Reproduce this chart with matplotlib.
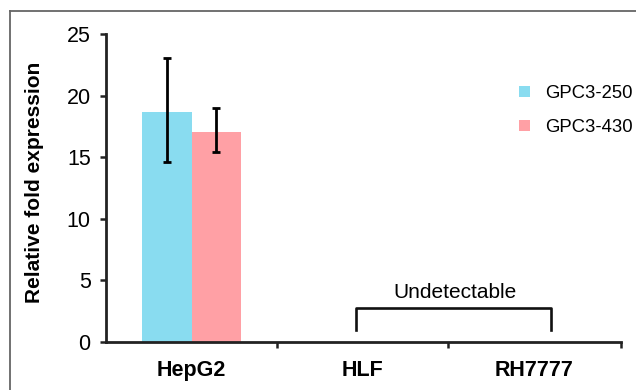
import matplotlib.pyplot as plt
from matplotlib.lines import Line2D
import numpy as np

plt.rcParams['font.family'] = ['Liberation Sans', 'DejaVu Sans']

cell_lines = ['HepG2', 'HLF', 'RH7777']
series = ['GPC3-250', 'GPC3-430']
gpc3_250 = [18.7, 0, 0]
gpc3_250_err_lo = [4.05, 0, 0]
gpc3_250_err_hi = [4.35, 0, 0]
gpc3_430 = [17.05, 0, 0]
gpc3_430_err_lo = [1.65, 0, 0]
gpc3_430_err_hi = [1.97, 0, 0]
colors = ['#89dcf0', '#ffa0a5']

fig = plt.figure(figsize=(6.36, 3.9), dpi=100)
ax = fig.add_axes([106 / 636, 1 - 342 / 390, 515 / 636, 308 / 390])

x = np.arange(len(cell_lines))
w = 0.287
# only HepG2 has a measured value
ax.bar(x[0] - w / 2, gpc3_250[0], w, color=colors[0], label=series[0])
ax.bar(x[0] + w / 2, gpc3_430[0], w, color=colors[1], label=series[1])
ax.errorbar([x[0] - w / 2, x[0] + w / 2], [gpc3_250[0], gpc3_430[0]],
            yerr=[[gpc3_250_err_lo[0], gpc3_430_err_lo[0]],
                  [gpc3_250_err_hi[0], gpc3_430_err_hi[0]]], fmt='none',
            ecolor='black', elinewidth=2, capsize=3, capthick=2)

# bracket over the undetectable lines
bx = [0.963, 0.963, 2.10, 2.10]
by = [0.97, 2.76, 2.76, 0.97]
ax.plot(bx, by, color='#111111', lw=1.9, solid_joinstyle='round')
ax.text(1.54, 4.05, 'Undetectable', ha='center', va='center', fontsize=15)

ax.set_xlim(-0.5, 2.51)
ax.set_ylim(0, 25)
ax.set_yticks([0, 5, 10, 15, 20, 25])
ax.set_xticks(x)
ax.set_xticklabels(cell_lines, fontsize=15.5, fontweight='bold')
ax.set_xticks([0.5, 1.5, 2.51], minor=True)
ax.tick_params(axis='x', which='major', length=0, pad=13)
ax.tick_params(axis='x', which='minor', length=4, width=1.8, direction='out', color='#222222')
ax.tick_params(axis='y', length=4, width=1.8, direction='out', pad=7,
               labelsize=15.5, color='#222222')

for s in ['top', 'right']:
    ax.spines[s].set_visible(False)
for s in ['left', 'bottom']:
    ax.spines[s].set_linewidth(2)
    ax.spines[s].set_color('#222222')

fig.text(35 / 636, 1 - 182 / 390, 'Relative fold expression', rotation=90,
         ha='center', va='center', fontsize=15, fontweight='bold')

leg = ax.legend(loc='upper left', bbox_to_anchor=(519 / 636, 1 - 85 / 390),
                bbox_transform=fig.transFigure, frameon=False, fontsize=13.3,
                handlelength=0.6, handleheight=0.6, handletextpad=0.8,
                labelspacing=0.92, borderpad=0, borderaxespad=0)

# partial frame from the original figure panel
fig.add_artist(Line2D([10 / 636, 1], [1 - 11 / 390, 1 - 11 / 390],
                      transform=fig.transFigure, color='#666666', lw=1.3))
fig.add_artist(Line2D([10 / 636, 10 / 636], [0, 1 - 11 / 390],
                      transform=fig.transFigure, color='#666666', lw=1.3))

fig.savefig('out.png', dpi=100)
